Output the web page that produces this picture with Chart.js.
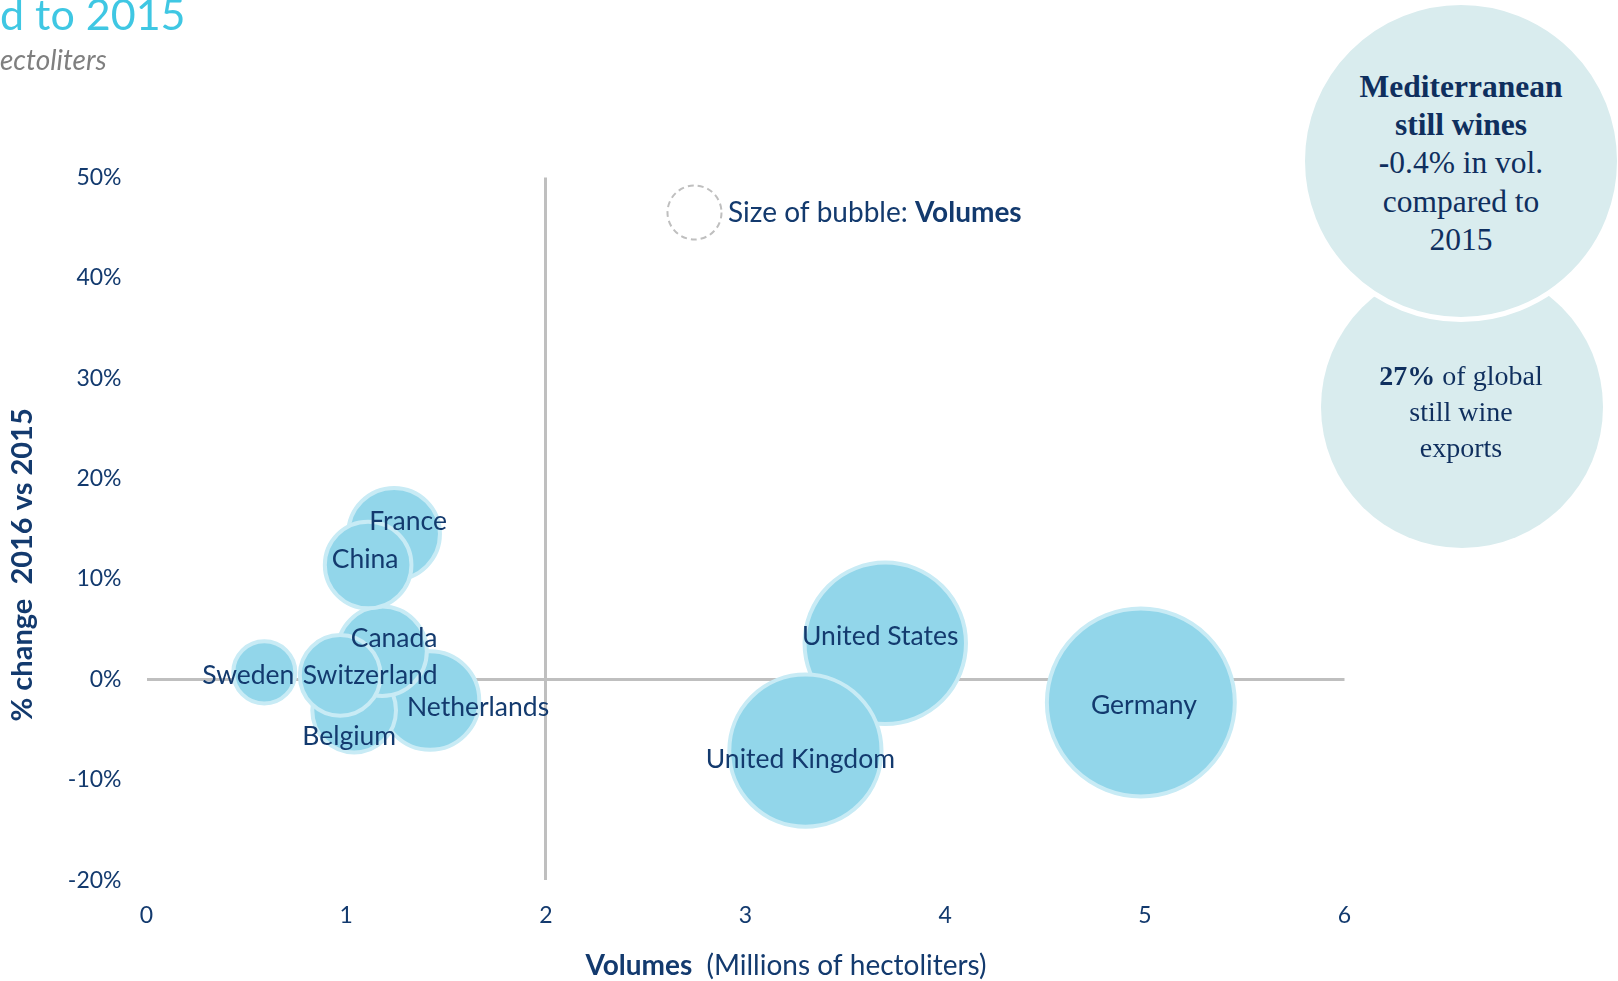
<!DOCTYPE html>
<html>
<head>
<meta charset="utf-8">
<script src="https://cdn.jsdelivr.net/npm/chart.js@4/dist/chart.umd.min.js"></script>
<style>
  body { margin: 0; background: #ffffff; }
  #wrap { position: relative; width: 1618px; height: 981px; overflow: hidden; }
  #chart { position: absolute; left: 0; top: 0; }
  .title { position: absolute; left: 0; top: -8px; font: 43px Lato; line-height: 43px; color: #3fc7e3; white-space: nowrap; }
  .subtitle { position: absolute; left: 0; top: 45px; font: italic 28px Lato; line-height: 28px; color: #7f7f7f; white-space: nowrap; }
  .circle { position: absolute; border-radius: 50%; background: #d9ecee; box-sizing: border-box; }
  .note { position: absolute; text-align: center; color: #0f2f5e; font-family: "Liberation Serif", serif; white-space: nowrap; }
  .note b { font-weight: bold; }
</style>
</head>
<body>
<div id="wrap">
  <canvas id="chart" width="1618" height="981"></canvas>
  <div class="title">d to 2015</div>
  <div class="subtitle">ectoliters</div>

  <div class="circle" style="left:1321px; top:266px; width:282px; height:282px;"></div>
  <div class="circle" style="left:1300px; top:0px; width:322px; height:322px; border:5px solid #ffffff;"></div>

  <div class="note" style="left:1311px; width:300px; top:67.5px; font-size:31.5px; line-height:38.4px;">
    <b>Mediterranean</b><br><b>still wines</b><br><b>-</b>0.4% in vol.<br>compared to<br>2015
  </div>
  <div class="note" style="left:1311px; width:300px; top:357.5px; font-size:28px; line-height:36px;">
    <b>27%</b> of global<br>still wine<br>exports
  </div>
</div>

<script>
const countries = ["Germany", "United States", "United Kingdom", "Netherlands", "France",
                   "Belgium", "Canada", "China", "Switzerland", "Sweden"];
// volumes, millions of hectoliters (also sets the bubble size)
const volumes = [4.98, 3.70, 3.30, 1.42, 1.24, 1.04, 1.18, 1.11, 0.97, 0.59];
// % change 2016 vs 2015
const changes = [-2.3, 3.6, -7.1, -2.1, 14.5, -3.1, 2.8, 11.4, 0.4, 0.7];
const xTicks = [0, 1, 2, 3, 4, 5, 6];
const yTicks = [-20, -10, 0, 10, 20, 30, 40, 50];

// label nudges in px, same order as countries
const labelShift = [[3, 3], [-5, -7], [-5, 9], [48, 7], [14, -12],
                    [-5, 26], [12, -13], [-3, -6], [30, 0], [-16, 3]];

const navy = '#133a6e';
const axisLine = '#bfbfbf';

const points = countries.map((c, i) => ({ x: volumes[i], y: changes[i] }));

const bubbleLabels = {
  id: 'bubbleLabels',
  afterDatasetsDraw(chart) {
    const ctx = chart.ctx;
    const meta = chart.getDatasetMeta(0);
    ctx.save();
    ctx.font = '26.5px Lato';
    ctx.fillStyle = navy;
    ctx.textAlign = 'center';
    ctx.textBaseline = 'middle';
    meta.data.forEach((pt, i) => {
      ctx.fillText(countries[i], pt.x + labelShift[i][0], pt.y + labelShift[i][1]);
    });
    ctx.restore();
  },
  afterDraw(chart) {
    const ctx = chart.ctx;
    const area = chart.chartArea;
    ctx.save();

    // bubble size legend
    ctx.setLineDash([6, 4]);
    ctx.strokeStyle = axisLine;
    ctx.lineWidth = 2;
    ctx.beginPath();
    ctx.arc(694.5, 212.5, 27, 0, Math.PI * 2);
    ctx.stroke();
    ctx.setLineDash([]);
    ctx.fillStyle = navy;
    ctx.textBaseline = 'middle';
    ctx.textAlign = 'left';
    ctx.font = '28px Lato';
    const lead = 'Size of bubble: ';
    ctx.fillText(lead, 728, 213);
    const w = ctx.measureText(lead).width;
    ctx.font = 'bold 28px Lato';
    ctx.fillText('Volumes', 728 + w, 213);

    // x axis title
    ctx.font = 'bold 28px Lato';
    const t1 = 'Volumes';
    const w1 = ctx.measureText(t1).width;
    ctx.font = '28px Lato';
    const t2 = '  (Millions of hectoliters)';
    const w2 = ctx.measureText(t2).width;
    let x0 = 786 - (w1 + w2) / 2;
    ctx.font = 'bold 28px Lato';
    ctx.fillText(t1, x0, 966);
    ctx.font = '28px Lato';
    ctx.fillText(t2, x0 + w1, 966);

    // y axis title
    ctx.translate(23, (area.top + area.bottom) / 2 + 36);
    ctx.rotate(-Math.PI / 2);
    ctx.textAlign = 'center';
    ctx.font = 'bold 29px Lato';
    ctx.fillText('% change  2016 vs 2015', 0, 0);
    ctx.restore();
  }
};

new Chart(document.getElementById('chart'), {
  type: 'bubble',
  data: {
    datasets: [{
      data: points,
      backgroundColor: '#92d6ea',
      borderColor: '#c8ebf5',
      borderWidth: 4,
      radius: ctx => 43 * Math.sqrt(ctx.raw.x) - 2
    }]
  },
  options: {
    responsive: false,
    animation: false,
    events: [],
    layout: { padding: { left: 0, top: 177.5, right: 273.5, bottom: 0 } },
    plugins: { legend: { display: false }, tooltip: { enabled: false } },
    scales: {
      x: {
        type: 'linear',
        min: xTicks[0],
        max: xTicks[xTicks.length - 1],
        afterBuildTicks: s => { s.ticks = xTicks.map(v => ({ value: v })); },
        afterFit: s => { s.height = 100.8; },
        border: { display: false },
        grid: {
          drawTicks: false,
          lineWidth: 3,
          color: c => (c.tick && c.tick.value === 2 ? axisLine : 'rgba(0,0,0,0)')
        },
        ticks: { padding: 22, color: navy, font: { family: 'Lato', size: 23 } }
      },
      y: {
        type: 'linear',
        min: yTicks[0],
        max: yTicks[yTicks.length - 1],
        afterBuildTicks: s => { s.ticks = yTicks.map(v => ({ value: v })); },
        afterFit: s => { s.width = 146.5; },
        border: { display: false },
        grid: {
          drawTicks: false,
          lineWidth: 3,
          color: c => (c.tick && c.tick.value === 0 ? axisLine : 'rgba(0,0,0,0)')
        },
        ticks: {
          padding: 25,
          color: navy,
          font: { family: 'Lato', size: 23 },
          callback: v => v + '%'
        }
      }
    }
  },
  plugins: [bubbleLabels]
});
</script>
</body>
</html>
